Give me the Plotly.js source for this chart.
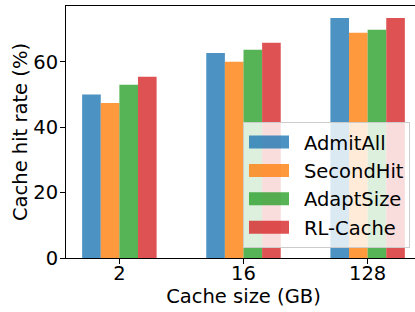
<!DOCTYPE html>
<html>
<head>
<meta charset="utf-8">
<script src="https://cdn.plot.ly/plotly-3.0.1.min.js"></script>
<style>
html, body { margin: 0; padding: 0; overflow: hidden; background: #fff; }
#chart { width: 421px; height: 312px; }
</style>
</head>
<body>
<div id="chart"></div>
<script>
const categories = ["2", "16", "128"];
const seriesNames = ["AdmitAll", "SecondHit", "AdaptSize", "RL-Cache"];
const admitAll = [50.0, 62.7, 73.4];
const secondHit = [47.4, 60.0, 68.9];
const adaptSize = [53.0, 63.7, 69.8];
const rlCache = [55.4, 65.8, 73.4];
const yTicks = [0, 20, 40, 60];
const xTitle = "Cache size (GB)";
const yTitle = "Cache hit rate (%)";

const seriesValues = [admitAll, secondHit, adaptSize, rlCache];
const colors = ["rgba(31,119,180,0.8)", "rgba(255,127,14,0.8)", "rgba(44,160,44,0.8)", "rgba(214,39,40,0.8)"];
const FONT = "DejaVu Sans, sans-serif";
const FS = 19.5;

const traces = seriesNames.map((name, i) => ({
  type: "bar",
  name: name,
  x: categories,
  y: seriesValues[i],
  marker: { color: colors[i], line: { width: 0 } },
  hoverinfo: "skip"
}));

const layout = {
  width: 421,
  height: 312,
  margin: { l: 66, r: 0, t: 6, b: 54, pad: 0 },
  paper_bgcolor: "#ffffff",
  plot_bgcolor: "#ffffff",
  font: { family: FONT, size: FS, color: "#000000" },
  barmode: "group",
  bargap: 0.4,
  bargroupgap: 0,
  showlegend: true,
  legend: {
    x: 0.969, xanchor: "right",
    y: 0.04, yanchor: "bottom",
    bgcolor: "rgba(255,255,255,0.8)",
    bordercolor: "#cccccc",
    borderwidth: 1,
    font: { family: FONT, size: FS, color: "#000000" },
    itemwidth: 50
  },
  xaxis: {
    type: "category",
    range: [-0.43, 2.43],
    showgrid: false,
    zeroline: false,
    showline: true,
    linecolor: "#000000",
    linewidth: 1,
    mirror: true,
    ticks: "outside",
    ticklen: 5,
    tickwidth: 1,
    tickcolor: "#000000",
    ticklabelstandoff: -7,
    tickfont: { family: FONT, size: FS, color: "#000000" },
    title: { text: xTitle, font: { family: FONT, size: FS, color: "#000000" }, standoff: 4 }
  },
  yaxis: {
    range: [0, 77.07],
    tickvals: yTicks,
    ticktext: yTicks.map(String),
    showgrid: false,
    zeroline: false,
    showline: true,
    linecolor: "#000000",
    linewidth: 1,
    ticks: "outside",
    ticklen: 5,
    tickwidth: 1,
    tickcolor: "#000000",
    ticklabelstandoff: -2,
    tickfont: { family: FONT, size: FS, color: "#000000" },
    title: { text: yTitle, font: { family: FONT, size: FS, color: "#000000" }, standoff: 0 }
  }
};

function widenLegendSwatches() {
  document.querySelectorAll("#chart .legend .legendpoints path").forEach(p => {
    p.setAttribute("d", "M15,6.5H-25V-6.5H15Z");
  });
}

Plotly.newPlot("chart", traces, layout, { staticPlot: true, displayModeBar: false }).then(gd => {
  widenLegendSwatches();
  gd.on("plotly_afterplot", widenLegendSwatches);
});
</script>
</body>
</html>
